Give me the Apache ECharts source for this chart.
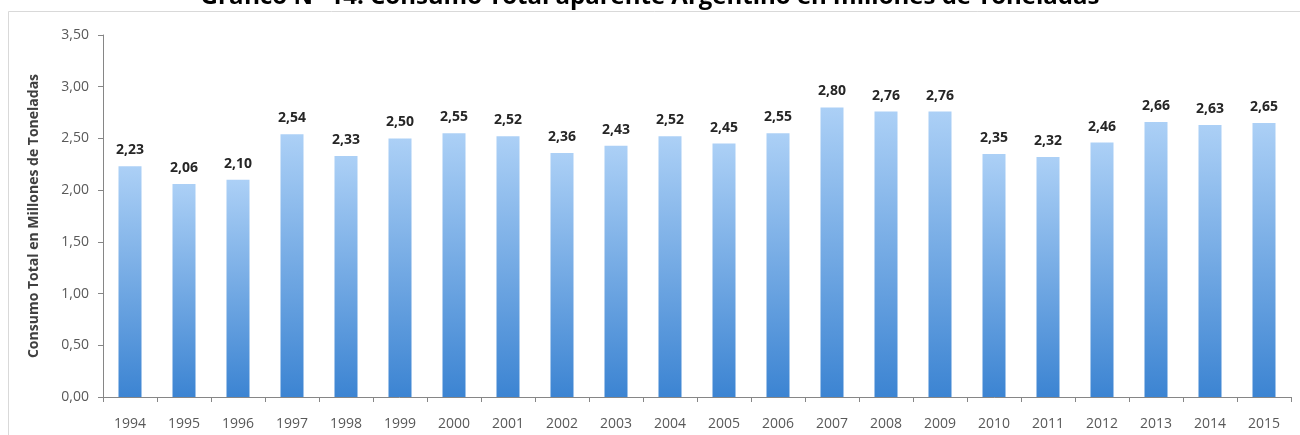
<!DOCTYPE html>
<html><head><meta charset="utf-8">
<script src="https://cdn.jsdelivr.net/npm/echarts@6/dist/echarts.min.js"></script>
<style>html,body{margin:0;padding:0;background:#fff;}#c{width:1300px;height:435px;}</style>
</head><body><div id="c"></div>
<script>
const titleText = 'Gráfico N° 14: Consumo Total aparente Argentino en millones de Toneladas';
const yAxisTitle = 'Consumo Total en Millones de Toneladas';
const years = ['1994','1995','1996','1997','1998','1999','2000','2001','2002','2003','2004','2005','2006','2007','2008','2009','2010','2011','2012','2013','2014','2015'];
const consumo = [2.23,2.06,2.10,2.54,2.33,2.50,2.55,2.52,2.36,2.43,2.52,2.45,2.55,2.80,2.76,2.76,2.35,2.32,2.46,2.66,2.63,2.65];
const yMin = 0, yMax = 3.5, yStep = 0.5;

const fmt = v => v.toFixed(2).replace('.', ',');
const chart = echarts.init(document.getElementById('c'), null, {renderer:'canvas'});
chart.setOption({
  animation:false,
  backgroundColor:'#fff',
  title:{text:titleText,left:'center',top:-20,textStyle:{fontFamily:'Open Sans',fontWeight:'bold',fontSize:24,color:'#000'}},
  graphic:[{type:'rect',shape:{x:8.5,y:11.5,width:1300,height:440},style:{fill:'none',stroke:'#d9d9d9',lineWidth:1},z:-1}],
  grid:{left:103,right:9,top:35,bottom:38},
  xAxis:{type:'category',data:years,boundaryGap:true,
    axisLine:{lineStyle:{color:'#868686'}},
    axisTick:{show:true,length:5,lineStyle:{color:'#868686'}},
    axisLabel:{color:'#595959',fontFamily:'Open Sans',fontSize:14,margin:20}},
  yAxis:{type:'value',min:yMin,max:yMax,interval:yStep,
    name:yAxisTitle,nameLocation:'middle',nameGap:62,
    nameTextStyle:{fontFamily:'Open Sans',fontWeight:'bold',fontSize:14,color:'#404040'},
    axisLine:{show:true,lineStyle:{color:'#868686'}},
    axisTick:{show:true,length:5,lineStyle:{color:'#868686'}},
    splitLine:{show:false},
    axisLabel:{color:'#595959',fontFamily:'Open Sans',fontSize:14,margin:14,formatter:v=>fmt(v)}},
  series:[{type:'bar',data:consumo,barWidth:23,
    itemStyle:{color:new echarts.graphic.LinearGradient(0,0,0,1,[{offset:0,color:'#acd0f6'},{offset:1,color:'#3c84d2'}])},
    label:{show:true,position:'top',distance:9,fontFamily:'Open Sans',fontWeight:'bold',fontSize:14,color:'#262626',formatter:p=>fmt(p.value)}}]
});
</script></body></html>
